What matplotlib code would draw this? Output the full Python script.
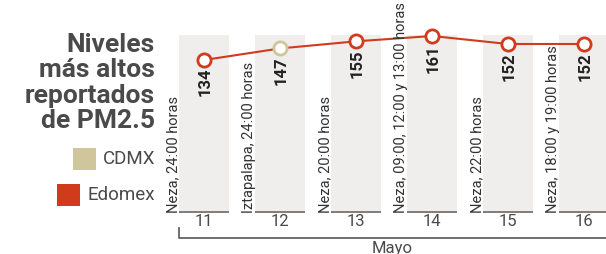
import matplotlib.pyplot as plt
from matplotlib.patches import Rectangle

plt.rcParams['font.family'] = ['Roboto', 'DejaVu Sans']

dias = [11, 12, 13, 14, 15, 16]
valores = [134, 147, 155, 161, 152, 152]
entidad = ['Edomex', 'CDMX', 'Edomex', 'Edomex', 'Edomex', 'Edomex']
lugares = ['Neza, 24:00 horas',
           'Iztapalapa, 24:00 horas',
           'Neza, 20:00 horas',
           'Neza, 09:00, 12:00 y 13:00 horas',
           'Neza, 22:00 horas',
           'Neza, 18:00 y 19:00 horas']
mes = 'Mayo'

rojo = '#d03b1c'
beige = '#cfc79b'
gris_texto = '#4a4a4a'
colores = {'Edomex': rojo, 'CDMX': beige}

W, H = 606, 254
fig = plt.figure(figsize=(W / 100, H / 100), dpi=100)

# ejes: de x=160px a 606px, toda la altura
ax = fig.add_axes([160 / W, 0, 1 - 160 / W, 1])
px_dia = 76.0
ax.set_xlim(11 - 44 / px_dia, 11 + 402 / px_dia)
px_unidad = 0.889
ax.set_ylim(134 - (H - 60) / px_unidad, 134 + 60 / px_unidad)
ax.axis('off')


def fy(py):
    return 1 - py / H


ancho = 50 / px_dia
for d in dias:
    ax.axvspan(d - ancho / 2, d + ancho / 2, ymin=fy(212), ymax=fy(35),
               color='#efeeed', lw=0, zorder=0)
    ax.axvspan(d - ancho / 2, d + ancho / 2, ymin=fy(213), ymax=fy(210.5),
               color='#808080', lw=0, zorder=1)
    ax.text(d, fy(222), str(d), transform=ax.get_xaxis_transform(),
            ha='center', va='center', fontsize=12, color=gris_texto)

ax.plot(dias, valores, color=rojo, lw=1.5, zorder=2)
for d, v, e in zip(dias, valores, entidad):
    ax.plot(d, v, 'o', ms=9.5, mfc='white', mec=colores[e], mew=2, zorder=3)
    ax.annotate(str(v), (d, v), xytext=(1, -8), textcoords='offset pixels',
                rotation=90, ha='center', va='top', fontsize=12,
                fontweight='bold', color='#222222')

for d, lugar in zip(dias, lugares):
    ax.text(d - ancho / 2 - 6 / px_dia, fy(213), lugar,
            transform=ax.get_xaxis_transform(), rotation=90,
            ha='center', va='bottom', fontsize=10.5, color='#333333',
            clip_on=False)

# corchete del mes
tr = ax.get_xaxis_transform()
x0 = 11 - 25 / px_dia
ax.plot([x0, x0, ax.get_xlim()[1]], [fy(228), fy(238), fy(238)],
        transform=tr, color='#555555', lw=1.2, clip_on=False)
ax.text((x0 + ax.get_xlim()[1]) / 2, fy(241), mes, transform=tr,
        ha='center', va='top', fontsize=12, color=gris_texto)

# titulo
titulo = ['Niveles', 'más altos', 'reportados', 'de PM2.5']
for i, linea in enumerate(titulo):
    fig.text(155 / W, fy(52 + i * 25.3), linea, ha='right', va='baseline',
             fontsize=19, fontweight='bold', color=gris_texto)

# leyenda
for (nombre, color), (xc, yc, xt) in zip(
        [('CDMX', beige), ('Edomex', rojo)],
        [(73, 148, 155), (57, 184, 155)]):
    fig.add_artist(Rectangle((xc / W, fy(yc + 22)), 23 / W, 22 / H,
                             transform=fig.transFigure, color=color, lw=0))
    fig.text(xt / W, fy(yc + 11), nombre, ha='right', va='center',
             fontsize=13.5, color=gris_texto)

fig.savefig('out.png', dpi=100)
